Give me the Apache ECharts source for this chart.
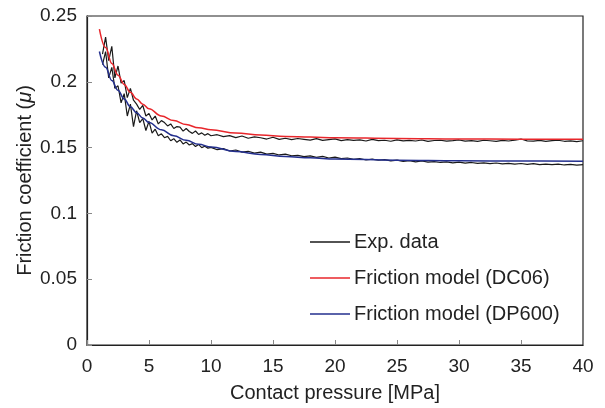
<!DOCTYPE html>
<html><head><meta charset="utf-8">
<script src="https://cdn.jsdelivr.net/npm/echarts@6/dist/echarts.min.js"></script>
<style>html,body{margin:0;padding:0;background:#fff}#c{width:605px;height:408px}</style>
</head><body><div id="c"></div>
<script>
// Experimental data sample positions (contact pressure, MPa)
const expX = [1.25,1.5,1.75,2,2.25,2.5,2.75,3,3.25,3.5,3.75,4,4.25,4.5,4.75,5,5.25,5.5,5.75,6,6.25,6.5,6.75,7,7.25,7.5,7.75,8,8.25,8.5,8.75,9,9.25,9.5,9.75,10,
  10.5,11,11.5,12,12.5,13,13.5,14,14.5,15,15.5,16,16.5,17,17.5,18,18.5,19,19.5,20,20.5,21,21.5,22,22.5,23,23.5,24,24.5,25,25.5,26,26.5,27,27.5,28,28.5,29,29.5,30,
  30.5,31,31.5,32,32.5,33,33.5,34,34.5,35,35.5,36,36.5,37,37.5,38,38.5,39,39.5,40];
// Exp. data, DC06 run (upper)
const expUpper = [0.221,0.234,0.216,0.227,0.203,0.212,0.199,0.201,0.188,0.195,0.186,0.183,0.179,0.182,0.174,0.176,0.171,0.174,0.168,0.1705,
  0.169,0.1665,0.168,0.1645,0.166,0.1655,0.1625,0.1645,0.1622,0.1608,0.1626,0.1600,0.1612,0.1594,0.1606,0.1590,
  0.1598,0.1583,0.1591,0.1576,0.1588,0.1571,0.1581,0.1575,0.1565,0.1579,
  0.1563,0.1571,0.1560,0.1569,0.1563,0.1557,0.1568,0.1555,0.1561,0.1566,
  0.1553,0.1561,0.1555,0.1559,0.1550,0.1562,0.1553,0.1556,0.1548,0.1559,
  0.1551,0.1555,0.1550,0.1558,0.1547,0.1554,0.1556,0.1549,0.1553,0.1558,
  0.1549,0.1553,0.1547,0.1556,0.1552,0.1548,0.1555,0.1550,0.1557,0.1565,
  0.1551,0.1549,0.1555,0.1547,0.1553,0.1556,0.1548,0.1551,0.1546,0.1552];
// Exp. data, DP600 run (lower)
const expLower = [0.213,0.223,0.203,0.211,0.195,0.197,0.184,0.191,0.174,0.183,0.166,0.178,0.169,0.172,0.163,0.170,0.161,0.164,0.159,0.1605,
  0.1575,0.1585,0.1552,0.1568,0.1540,0.1558,0.1528,0.1542,0.1520,0.1530,0.1508,0.1524,0.1500,0.1510,0.1496,0.1502,
  0.1484,0.1492,0.1474,0.1482,0.1466,0.1472,0.1458,0.1466,0.1450,0.1456,
  0.1444,0.1450,0.1438,0.1441,0.1432,0.1437,0.1426,0.1433,0.1421,0.1427,
  0.1416,0.1421,0.1411,0.1417,0.1406,0.1413,0.1404,0.1408,0.1399,0.1405,
  0.1396,0.1401,0.1392,0.1398,0.1390,0.1394,0.1387,0.1392,0.1384,0.1389,
  0.1382,0.1387,0.1380,0.1384,0.1378,0.1383,0.1376,0.1380,0.1375,0.1379,
  0.1373,0.1378,0.1371,0.1375,0.1370,0.1374,0.1368,0.1372,0.1367,0.1371];
// Friction model curves
const modelX = [1,1.5,2,2.5,3,3.5,4,4.5,5,6,7,8,9,10,12,14,16,18,20,25,30,35,40];
const modelDC06 = [0.240,0.226,0.214,0.205,0.198,0.192,0.187,0.183,0.1795,0.174,0.1705,0.1675,0.165,0.1635,0.161,0.1595,0.1585,0.158,0.1575,0.157,0.1566,0.1564,0.1563];
const modelDP600 = [0.223,0.211,0.201,0.1935,0.187,0.181,0.1765,0.1725,0.169,0.1635,0.159,0.1555,0.1525,0.1505,0.147,0.1448,0.1432,0.1422,0.1414,0.1404,0.140,0.1398,0.1397];
const xTicks = [0,5,10,15,20,25,30,35,40];
const yTicks = [0,0.05,0.1,0.15,0.2,0.25];

const zip = (xs, ys) => xs.map((x, i) => [x, ys[i]]);
const FONT = '"Liberation Sans", Arial, sans-serif';
const LINE_ICON = 'path://M0,0L40,0L40,1.6L0,1.6Z';
const chart = echarts.init(document.getElementById('c'), null, {renderer: 'canvas'});
chart.setOption({
  animation: false,
  backgroundColor: '#fff',
  grid: {left: 87, right: 22, top: 16, bottom: 61, show: true, borderColor: '#222', borderWidth: 1.2, containLabel: false},
  xAxis: {
    type: 'value', min: xTicks[0], max: xTicks[xTicks.length - 1], interval: 5,
    name: 'Contact pressure [MPa]', nameLocation: 'middle', nameGap: 38, nameMoveOverlap: false,
    nameTextStyle: {fontFamily: FONT, fontSize: 20, color: '#222'},
    axisLine: {show: true, lineStyle: {color: '#222', width: 1.2}},
    axisTick: {show: true, inside: true, length: 5, lineStyle: {color: '#888'}},
    axisLabel: {fontFamily: FONT, fontSize: 19, color: '#222', margin: 12},
    splitLine: {show: false}
  },
  yAxis: {
    type: 'value', min: yTicks[0], max: yTicks[yTicks.length - 1], interval: 0.05,
    name: '{n|Friction coefficient (}{i|μ}{n|)}', nameLocation: 'middle', nameGap: 52, nameRotate: 90, nameMoveOverlap: false,
    nameTextStyle: {rich: {n: {fontFamily: FONT, fontSize: 20, color: '#222'}, i: {fontFamily: FONT, fontSize: 20, color: '#222', fontStyle: 'italic'}}},
    axisLine: {show: true, lineStyle: {color: '#222', width: 1.2}},
    axisTick: {show: true, inside: true, length: 5, lineStyle: {color: '#888'}},
    axisLabel: {fontFamily: FONT, fontSize: 19, color: '#222', margin: 10},
    splitLine: {show: false}
  },
  legend: {
    orient: 'vertical', left: 310, top: 232, padding: 0, itemWidth: 40, itemHeight: 2, itemGap: 16,
    textStyle: {fontFamily: FONT, fontSize: 20, color: '#222', padding: [0, 0, 0, -1]},
    data: [
      {name: 'Exp. data', icon: LINE_ICON},
      {name: 'Friction model (DC06)', icon: LINE_ICON},
      {name: 'Friction model (DP600)', icon: LINE_ICON}
    ]
  },
  series: [
    {name: 'Exp. data', type: 'line', data: zip(expX, expUpper), symbol: 'none', lineStyle: {color: '#1a1a1a', width: 1.2}, itemStyle: {color: '#1a1a1a'}},
    {name: 'Exp. data', type: 'line', data: zip(expX, expLower), symbol: 'none', lineStyle: {color: '#1a1a1a', width: 1.2}, itemStyle: {color: '#1a1a1a'}},
    {name: 'Friction model (DC06)', type: 'line', data: zip(modelX, modelDC06), symbol: 'none', smooth: 0.4, smoothMonotone: 'x', lineStyle: {color: '#e8262b', width: 1.5}, itemStyle: {color: '#e8262b'}},
    {name: 'Friction model (DP600)', type: 'line', data: zip(modelX, modelDP600), symbol: 'none', smooth: 0.4, smoothMonotone: 'x', lineStyle: {color: '#232f8e', width: 1.5}, itemStyle: {color: '#232f8e'}}
  ]
});
</script></body></html>
